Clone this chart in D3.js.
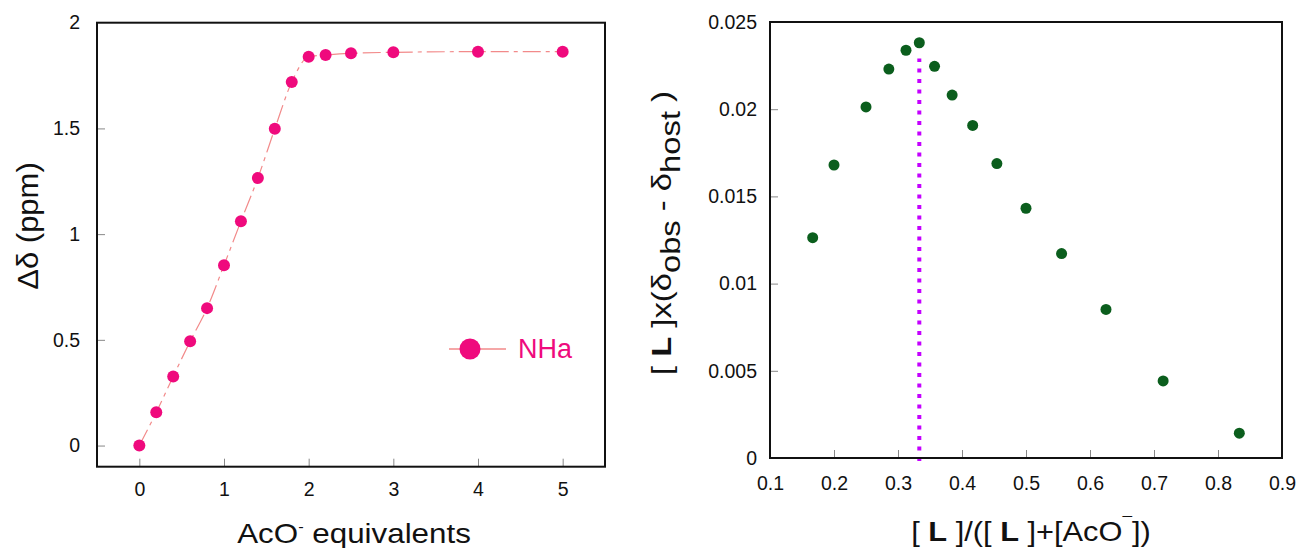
<!DOCTYPE html>
<html>
<head>
<meta charset="utf-8">
<script src="https://cdn.jsdelivr.net/npm/d3@7"></script>
<style>
  html, body { margin: 0; padding: 0; background: #ffffff; }
  svg { display: block; font-family: "Liberation Sans", Arial, Helvetica, sans-serif; }
</style>
</head>
<body>
<svg id="chart" width="1298" height="548"></svg>
<script>
// ---------- Data: titration (left) ----------
const titrEquiv = [0, 0.2, 0.4, 0.6, 0.8, 1.0, 1.2, 1.4, 1.6, 1.8, 2.0, 2.2, 2.5, 3, 4, 5];
const titrShift = [0, 0.157, 0.327, 0.493, 0.65, 0.853, 1.061, 1.265, 1.498, 1.719, 1.839, 1.847, 1.855, 1.86, 1.863, 1.863];
const leftXTicks = [0, 1, 2, 3, 4, 5];
const leftYTicks = [0, 0.5, 1, 1.5, 2];
const leftSeriesName = "NHa";

// ---------- Data: Job plot (right) ----------
const jobFraction = [0.1667, 0.2, 0.25, 0.2857, 0.3125, 0.3333, 0.3571, 0.3846, 0.4167, 0.4545, 0.5, 0.5556, 0.625, 0.7143, 0.8333];
const jobValue = [0.01263, 0.0168, 0.02013, 0.0223, 0.02338, 0.02381, 0.02246, 0.02081, 0.01907, 0.01688, 0.01432, 0.01172, 0.00852, 0.00442, 0.00142];
const jobMaxX = 0.3333;
const jobMaxLineTop = 0.0229;
const rightXTicks = [0.1, 0.2, 0.3, 0.4, 0.5, 0.6, 0.7, 0.8, 0.9];
const rightYTicks = [0, 0.005, 0.01, 0.015, 0.02, 0.025];

const svg = d3.select("#chart");
const pink = "#ef0a7d";
const lineCol = "#f28a8a";
const green = "#0b5e1d";
const purple = "#c400ff";
const tickCol = "#888";

// ================= LEFT CHART =================
const L = { x0: 97, x1: 605, y0: 22.7, y1: 466.7 };
const xL = d3.scaleLinear().domain([-0.5, 5.5]).range([L.x0, L.x1]);
const yL = d3.scaleLinear().domain([-0.1, 2]).range([L.y1, L.y0]);

const gL = svg.append("g");

const axLB = gL.append("g").attr("transform", `translate(0,${L.y1})`)
  .call(d3.axisBottom(xL).tickValues(leftXTicks).tickFormat(d3.format("d")).tickSizeInner(-8).tickSizeOuter(0).tickPadding(15));
const axLL = gL.append("g").attr("transform", `translate(${L.x0},0)`)
  .call(d3.axisLeft(yL).tickValues(leftYTicks).tickFormat(d => String(d)).tickSizeInner(-8).tickSizeOuter(0).tickPadding(17));
[axLB, axLL].forEach(a => {
  a.select(".domain").remove();
  a.selectAll("line").attr("stroke", tickCol).attr("stroke-width", 1);
  a.selectAll("text").attr("fill", "#111").style("font-size", "19.5px").style("font-family", "'Liberation Sans', Arial, sans-serif");
});
axLL.selectAll(".tick").filter(d => d === 2).select("line").remove();

// line
const lineGen = d3.line().x((d, i) => xL(titrEquiv[i])).y(d => yL(d)).curve(d3.curveMonotoneX);
gL.append("path").datum(titrShift)
  .attr("d", lineGen)
  .attr("fill", "none").attr("stroke", lineCol).attr("stroke-width", 1.2)
  .attr("stroke-dasharray", "18,5,4,5");

// points
gL.selectAll("circle.pt").data(titrShift).enter().append("circle")
  .attr("class", "pt")
  .attr("cx", (d, i) => xL(titrEquiv[i])).attr("cy", d => yL(d)).attr("r", 6)
  .attr("fill", pink);

// frame
gL.append("rect").attr("x", L.x0).attr("y", L.y0).attr("width", L.x1 - L.x0).attr("height", L.y1 - L.y0)
  .attr("fill", "none").attr("stroke", "#111").attr("stroke-width", 2);

// legend
const legY = 349;
gL.append("line").attr("x1", 449).attr("x2", 506).attr("y1", legY).attr("y2", legY)
  .attr("stroke", lineCol).attr("stroke-width", 1.5);
gL.append("circle").attr("cx", 470).attr("cy", legY).attr("r", 10.5).attr("fill", pink);
gL.append("text").attr("x", 518).attr("y", 357.5).attr("fill", pink)
  .style("font-size", "27px").text(leftSeriesName);

// axis titles
const xtL = gL.append("text").attr("transform", `translate(354,543) scale(1.1,1)`).attr("text-anchor", "middle")
  .attr("fill", "#111").style("font-size", "28.5px");
xtL.append("tspan").text("AcO");
xtL.append("tspan").attr("dy", -11).style("font-size", "15px").text("-");
xtL.append("tspan").attr("dy", 11).text(" equivalents");

gL.append("text").attr("transform", `translate(38,226) rotate(-90) scale(1.05,1)`).attr("text-anchor", "middle")
  .attr("fill", "#111").style("font-size", "29.5px").text("Δδ (ppm)");

// ================= RIGHT CHART =================
const R = { x0: 770, x1: 1282, y0: 22, y1: 458 };
const xR = d3.scaleLinear().domain([0.1, 0.9]).range([R.x0, R.x1]);
const yR = d3.scaleLinear().domain([0, 0.025]).range([R.y1, R.y0]);

const gR = svg.append("g");
const axRB = gR.append("g").attr("transform", `translate(0,${R.y1})`)
  .call(d3.axisBottom(xR).tickValues(rightXTicks).tickFormat(d => String(d)).tickSizeInner(-8).tickSizeOuter(0).tickPadding(18));
const axRL = gR.append("g").attr("transform", `translate(${R.x0},0)`)
  .call(d3.axisLeft(yR).tickValues(rightYTicks).tickFormat(d => String(d)).tickSizeInner(-8).tickSizeOuter(0).tickPadding(13));
[axRB, axRL].forEach(a => {
  a.select(".domain").remove();
  a.selectAll("line").attr("stroke", tickCol).attr("stroke-width", 1);
  a.selectAll("text").attr("fill", "#111").style("font-size", "19.5px").style("font-family", "'Liberation Sans', Arial, sans-serif");
});
axRB.selectAll(".tick").filter(d => d === 0.1 || d === 0.9).select("line").remove();
axRL.selectAll(".tick").filter(d => d === 0 || d === 0.025).select("line").remove();

// dotted max line
gR.append("line").attr("x1", xR(jobMaxX)).attr("x2", xR(jobMaxX))
  .attr("y1", yR(0) + 3).attr("y2", yR(jobMaxLineTop))
  .attr("stroke", purple).attr("stroke-width", 4).attr("stroke-dasharray", "4,6.5");

// points
gR.selectAll("circle.pt").data(jobValue).enter().append("circle")
  .attr("class", "pt")
  .attr("cx", (d, i) => xR(jobFraction[i])).attr("cy", d => yR(d)).attr("r", 5.5)
  .attr("fill", green);

// frame
gR.append("rect").attr("x", R.x0).attr("y", R.y0).attr("width", R.x1 - R.x0).attr("height", R.y1 - R.y0)
  .attr("fill", "none").attr("stroke", "#111").attr("stroke-width", 2);

// x title
const xtR = gR.append("text").attr("transform", `translate(1031,541) scale(1.08,1)`).attr("text-anchor", "middle")
  .attr("fill", "#111").style("font-size", "28.5px");
xtR.append("tspan").text("[ ");
xtR.append("tspan").style("font-weight", "bold").text("L");
xtR.append("tspan").text(" ]/([ ");
xtR.append("tspan").style("font-weight", "bold").text("L");
xtR.append("tspan").text(" ]+[AcO");
xtR.append("tspan").attr("dy", -12).style("font-size", "16px").text("¯");
xtR.append("tspan").attr("dy", 12).text("])");

// y title
const ytR = gR.append("text").attr("transform", `translate(671,233) rotate(-90) scale(1.17,1)`).attr("text-anchor", "middle")
  .attr("fill", "#111").style("font-size", "28px");
ytR.append("tspan").text("[ ");
ytR.append("tspan").style("font-weight", "bold").text("L");
ytR.append("tspan").text(" ]x(δ");
ytR.append("tspan").attr("dy", 9).text("obs");
ytR.append("tspan").attr("dy", -9).text(" - δ");
ytR.append("tspan").attr("dy", 9).text("host");
ytR.append("tspan").attr("dy", -9).text(" )");
</script>
</body>
</html>
